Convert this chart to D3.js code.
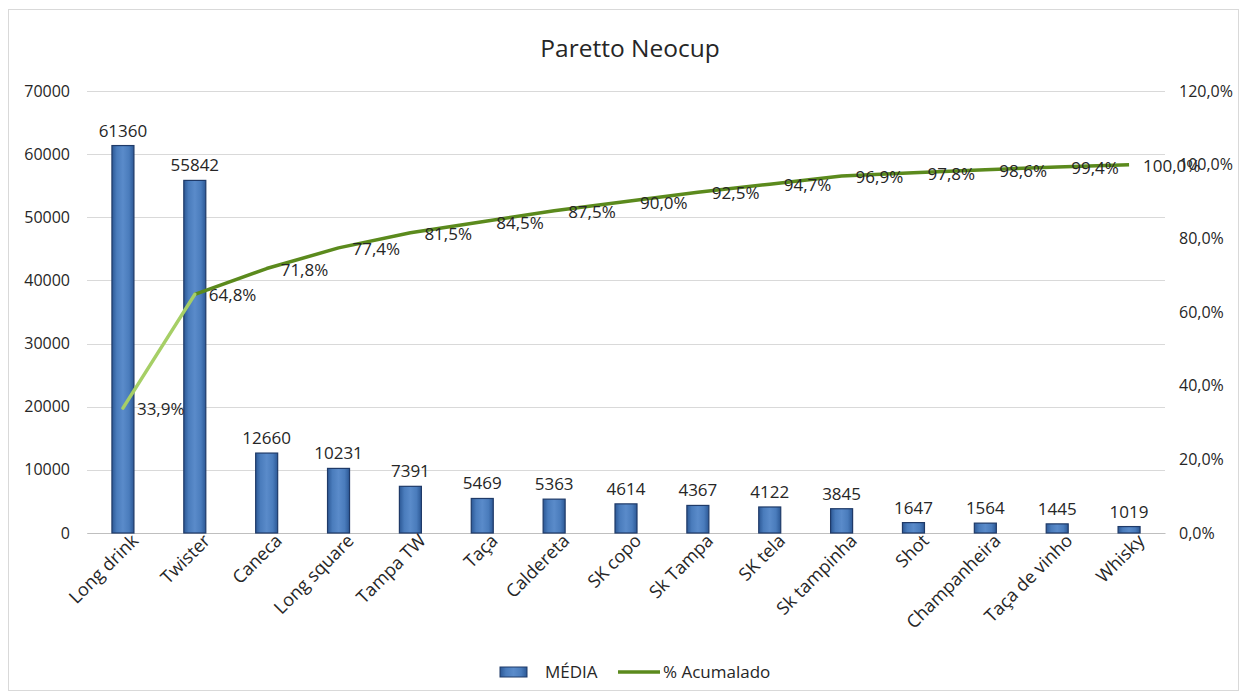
<!DOCTYPE html>
<html>
<head>
<meta charset="utf-8">
<script src="https://cdnjs.cloudflare.com/ajax/libs/d3/7.8.5/d3.min.js"></script>
<style>
  body { margin: 0; background: #fff; }
  text { font-family: "Open Sans", "Noto Sans", sans-serif; fill: #262626; }
</style>
</head>
<body>
<div id="chart"></div>
<script>
var categories = ["Long drink", "Twister", "Caneca", "Long square", "Tampa TW", "Taça", "Caldereta",
  "SK copo", "Sk Tampa", "SK tela", "Sk tampinha", "Shot", "Champanheira", "Taça de vinho", "Whisky"];
var media = [61360, 55842, 12660, 10231, 7391, 5469, 5363, 4614, 4367, 4122, 3845, 1647, 1564, 1445, 1019];
var acumulado = [33.9, 64.8, 71.8, 77.4, 81.5, 84.5, 87.5, 90.0, 92.5, 94.7, 96.9, 97.8, 98.6, 99.4, 100.0];
var leftTicks = [0, 10000, 20000, 30000, 40000, 50000, 60000, 70000];
var rightTicks = [0, 20, 40, 60, 80, 100, 120];

var W = 1240, H = 693;
var margin = {top: 91, right: 75, bottom: 160, left: 87},
    width = W - margin.left - margin.right,
    height = H - margin.top - margin.bottom;

var fmtPct = function (v) { return v.toFixed(1).replace(".", ",") + "%"; };

var root = d3.select("#chart").append("svg")
  .attr("width", W).attr("height", H);

root.append("rect")
  .attr("x", 8.5).attr("y", 9.5).attr("width", W - 10).attr("height", H - 12)
  .attr("fill", "#fff").attr("stroke", "#d9d9d9");

var defs = root.append("defs");
var grad = defs.append("linearGradient").attr("id", "barGrad")
  .attr("x1", "0").attr("x2", "1").attr("y1", "0").attr("y2", "0");
grad.append("stop").attr("offset", "0%").attr("stop-color", "#2c5895");
grad.append("stop").attr("offset", "22%").attr("stop-color", "#4a7cbc");
grad.append("stop").attr("offset", "50%").attr("stop-color", "#5a8bca");
grad.append("stop").attr("offset", "78%").attr("stop-color", "#4a7cbc");
grad.append("stop").attr("offset", "100%").attr("stop-color", "#2c5895");

root.append("text")
  .attr("x", 630).attr("y", 57)
  .attr("text-anchor", "middle")
  .style("font-size", "24.5px")
  .text("Paretto Neocup");

var svg = root.append("g")
  .attr("transform", "translate(" + margin.left + "," + margin.top + ")");

var x = d3.scaleBand().domain(categories).range([0, width]);
var y = d3.scaleLinear().domain([0, 70000]).range([height, 0]);
var y2 = d3.scaleLinear().domain([0, 120]).range([height, 0]);

// gridlines
svg.append("g")
  .selectAll("line")
  .data(leftTicks)
  .enter().append("line")
  .attr("x1", 0).attr("x2", width)
  .attr("y1", function (d) { return Math.round(y(d)) + 0.5; })
  .attr("y2", function (d) { return Math.round(y(d)) + 0.5; })
  .attr("stroke", "#d9d9d9");

// left axis
svg.append("g")
  .call(d3.axisLeft(y).tickValues(leftTicks).tickSize(0).tickPadding(17).tickFormat(d3.format("d")))
  .call(function (g) { g.select(".domain").remove(); })
  .selectAll("text")
  .style("font-size", "16px").style("font-family", "'Open Sans', sans-serif").attr("fill", "#262626");

// right axis
svg.append("g")
  .attr("transform", "translate(" + width + ",0)")
  .call(d3.axisRight(y2).tickValues(rightTicks).tickSize(0).tickPadding(14)
    .tickFormat(function (d) { return fmtPct(d); }))
  .call(function (g) { g.select(".domain").remove(); })
  .selectAll("text")
  .style("font-size", "16px").style("font-family", "'Open Sans', sans-serif").attr("fill", "#262626");

// bottom axis
svg.append("g")
  .attr("transform", "translate(0," + height + ")")
  .call(d3.axisBottom(x).tickSize(0).tickPadding(8))
  .call(function (g) { g.select(".domain").attr("stroke", "#bfbfbf"); })
  .selectAll("text")
  .style("font-size", "18px").style("font-family", "'Open Sans', sans-serif").attr("fill", "#262626")
  .style("text-anchor", "end")
  .attr("dx", "0.3em").attr("dy", "0.55em")
  .attr("transform", "rotate(-45)");

// bars
var barW = 22;
svg.selectAll(".bar")
  .data(media)
  .enter().append("rect")
  .attr("class", "bar")
  .attr("x", function (d, i) { return x(categories[i]) + x.bandwidth() / 2 - barW / 2; })
  .attr("y", function (d) { return y(d); })
  .attr("width", barW)
  .attr("height", function (d) { return height - y(d); })
  .attr("fill", "url(#barGrad)")
  .attr("stroke", "#1f3a68").attr("stroke-width", 1.2);

svg.selectAll(".barLabel")
  .data(media)
  .enter().append("text")
  .attr("x", function (d, i) { return x(categories[i]) + x.bandwidth() / 2; })
  .attr("y", function (d) { return y(d) - 9; })
  .attr("text-anchor", "middle")
  .style("font-size", "17px")
  .text(function (d) { return d; });

// cumulative line
var pts = acumulado.map(function (v, i) { return [x(categories[i]) + x.bandwidth() / 2, y2(v)]; });
svg.append("path")
  .attr("d", d3.line()(pts.slice(1)))
  .attr("fill", "none").attr("stroke", "#5b8a1d").attr("stroke-width", 3.5)
  .attr("stroke-linejoin", "round");
svg.append("path")
  .attr("d", d3.line()(pts.slice(0, 2)))
  .attr("fill", "none").attr("stroke", "#a6cf66").attr("stroke-width", 3.5)
  .attr("stroke-linecap", "round");

svg.selectAll(".pctLabel")
  .data(acumulado)
  .enter().append("text")
  .attr("x", function (d, i) { return pts[i][0] + 14; })
  .attr("y", function (d, i) { return pts[i][1] + 7; })
  .style("font-size", "17px")
  .text(function (d) { return fmtPct(d); });

// legend
var leg = root.append("g").attr("transform", "translate(0,672)");
leg.append("rect").attr("x", 500).attr("y", -5).attr("width", 27).attr("height", 10)
  .attr("fill", "url(#barGrad)").attr("stroke", "#1f3a68");
leg.append("text").attr("x", 545).attr("y", 6).style("font-size", "17px").text("MÉDIA");
leg.append("line").attr("x1", 618).attr("x2", 660).attr("y1", 0).attr("y2", 0)
  .attr("stroke", "#5b8a1d").attr("stroke-width", 3.5);
leg.append("text").attr("x", 663).attr("y", 6).style("font-size", "17px").text("% Acumalado");
</script>
</body>
</html>
